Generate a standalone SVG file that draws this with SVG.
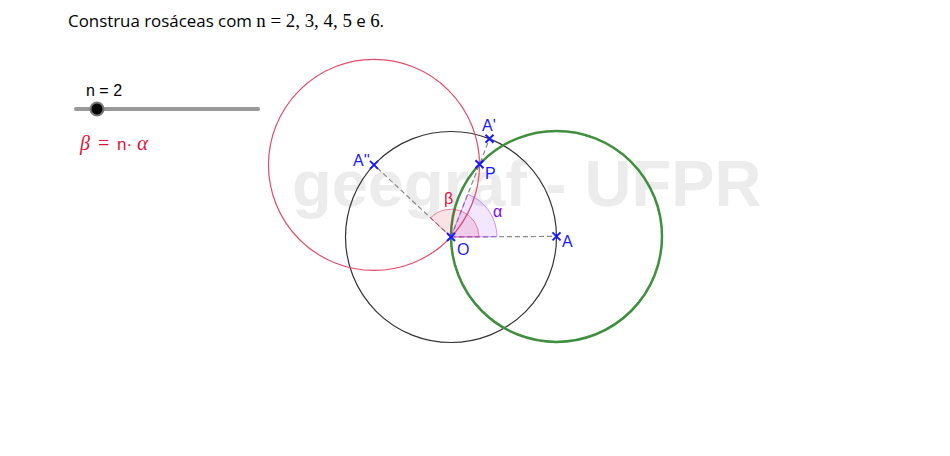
<svg xmlns="http://www.w3.org/2000/svg" width="950" height="456" viewBox="0 0 950 456">
<style>
.lbl{font-family:"Liberation Sans",Arial,sans-serif;font-size:16px;fill:#1a1aff}
.pt{stroke:#1a1aff;stroke-width:2;fill:none}
.dash{stroke:#888;stroke-width:1.2;stroke-dasharray:5,3;fill:none}
</style>
<defs>
<path id="x" d="M-4,-4 L4,4 M-4,4 L4,-4"/>
</defs>
<rect width="950" height="456" fill="#fff"/>
<text x="292" y="206" font-family="Liberation Sans,Arial,sans-serif" font-weight="bold" font-size="65" fill="#ececec">geegraf - UFPR</text>
<text x="68" y="27" font-family="Open Sans,Liberation Sans,sans-serif" font-size="17" fill="#000" textLength="316" lengthAdjust="spacingAndGlyphs">Construa rosáceas com <tspan font-family="Liberation Serif,serif" font-size="19">n = 2, 3, 4, 5</tspan> e <tspan font-family="Liberation Serif,serif" font-size="19">6</tspan>.</text>
<g id="slider">
<text x="86" y="96" font-family="Liberation Sans,Arial,sans-serif" font-size="16" fill="#000">n = 2</text>
<line x1="76" y1="109" x2="258" y2="109" stroke="#999" stroke-width="4" stroke-linecap="round"/>
<circle cx="97" cy="109" r="6.5" fill="#000" stroke="#777" stroke-width="2"/>
</g>
<g id="formula" fill="#dc143c">
<text x="80" y="150" font-family="Liberation Serif,serif" font-size="20" font-style="italic">β</text>
<text x="98" y="150" font-family="Liberation Serif,serif" font-size="20">=</text>
<text x="117" y="150" font-family="Liberation Sans,sans-serif" font-size="17">n·</text>
<text x="137" y="150" font-family="Liberation Serif,serif" font-size="21" font-style="italic">α</text>
</g>
<g id="circles">
<circle id="c-black" cx="451" cy="237" r="105.5" fill="none" stroke="#333" stroke-width="1.2"/>
<circle id="c-red" cx="374" cy="164.9" r="105.5" fill="none" stroke="#e34b6a" stroke-width="1.2"/>
<circle id="c-green" cx="556.5" cy="236.4" r="105.5" fill="none" stroke="#3f8f3f" stroke-width="2.5"/>
</g>
<g id="connectors">
<line class="dash" x1="451" y1="237" x2="556.5" y2="236.4"/>
<line class="dash" x1="451" y1="237" x2="374" y2="164.9"/>
<line class="dash" x1="451" y1="237" x2="489.5" y2="138.8"/>
</g>
<g id="angles">
<path d="M451,237 L479,236.85 A28,28 0 0 0 430.6,217.9 Z" fill="rgba(220,20,60,0.12)" stroke="rgba(220,20,60,0.45)" stroke-width="1"/>
<path d="M451,237 L497,236.76 A46,46 0 0 0 467.8,194.2 Z" fill="rgba(153,51,255,0.12)" stroke="rgba(153,51,255,0.5)" stroke-width="1"/>
<text x="444" y="204" font-family="Liberation Sans,sans-serif" font-size="16" fill="#dc143c">β</text>
<text x="493" y="217" font-family="Liberation Sans,sans-serif" font-size="16" fill="#7f00ff">α</text>
</g>
<g id="O"><use href="#x" class="pt" transform="translate(451,237)"/><text class="lbl" x="457" y="255">O</text></g>
<g id="A"><use href="#x" class="pt" transform="translate(556.5,236.4)"/><text class="lbl" x="562" y="247">A</text></g>
<g id="A1"><use href="#x" class="pt" transform="translate(489.5,138.8)"/><text class="lbl" x="482" y="131">A'</text></g>
<g id="A2"><use href="#x" class="pt" transform="translate(374,164.9)"/><text class="lbl" x="353" y="166">A''</text></g>
<g id="P"><use href="#x" class="pt" transform="translate(479.5,164.3)"/><text class="lbl" x="485" y="179">P</text></g>
</svg>
